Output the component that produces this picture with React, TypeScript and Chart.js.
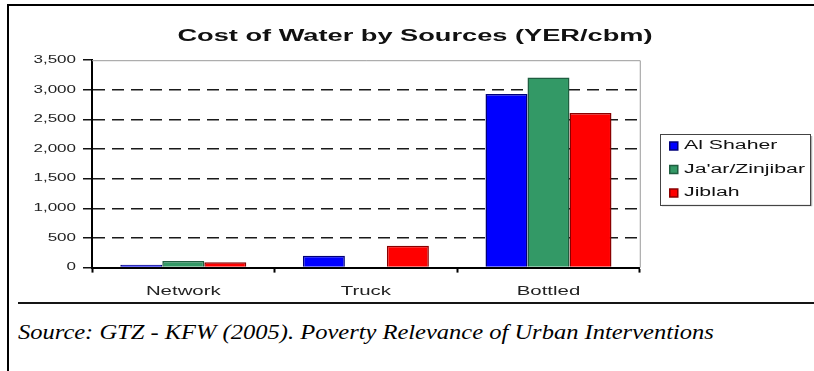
import React, { useEffect, useRef } from "react";
import { Chart, registerables } from "chart.js";

Chart.register(...registerables);

// ---- data ----
const categories = ["Network", "Truck", "Bottled"];
const seriesNames = ["Al Shaher", "Ja'ar/Zinjibar", "Jiblah"];
const alShaher = [50, 200, 2930];
const jaarZinjibar = [110, null, 3210];
const jiblah = [90, 370, 2610];
const yTickValues = [0, 500, 1000, 1500, 2000, 2500, 3000, 3500];

const titleText = "Cost of Water by Sources (YER/cbm)";
const sourceText = "Source: GTZ - KFW (2005). Poverty Relevance of Urban Interventions";

// ---- styling ----
const FONT = "'Liberation Sans', Arial, sans-serif";
const TEXT_STRETCH = 1.7; // glyphs are drawn horizontally widened
const fills = ["#0000FF", "#339966", "#FF0000"];
const edges = ["#00007A", "#1F5E40", "#8A0000"];

const formatThousands = (v: number) =>
  String(Math.round(v)).replace(/\B(?=(\d{3})+(?!\d))/g, ",");

// Widen every glyph drawn on this context, and report widened widths to the layout.
function widenText(ctx: CanvasRenderingContext2D, sx: number) {
  const fill = ctx.fillText.bind(ctx);
  const measure = ctx.measureText.bind(ctx);
  (ctx as any).fillText = (text: string, x: number, y: number, maxWidth?: number) => {
    ctx.save();
    ctx.translate(x, y);
    ctx.scale(sx, 1);
    if (maxWidth === undefined || maxWidth === null) fill(text, 0, 0);
    else fill(text, 0, 0, maxWidth / sx);
    ctx.restore();
  };
  (ctx as any).measureText = (text: string) => {
    const m = measure(text);
    return {
      width: m.width * sx,
      actualBoundingBoxLeft: m.actualBoundingBoxLeft * sx,
      actualBoundingBoxRight: m.actualBoundingBoxRight * sx,
      actualBoundingBoxAscent: m.actualBoundingBoxAscent,
      actualBoundingBoxDescent: m.actualBoundingBoxDescent,
      fontBoundingBoxAscent: m.fontBoundingBoxAscent,
      fontBoundingBoxDescent: m.fontBoundingBoxDescent,
    };
  };
}

// Moves the legend away from the plot and a little lower.
const legendNudge = {
  id: "legendNudge",
  afterLayout(chart: any) {
    const lg = chart.legend;
    if (!lg) return;
    const dx = 19;
    const dy = 5.5;
    lg.left += dx;
    lg.right += dx;
    lg.top += dy;
    lg.bottom += dy;
  },
};

// Thin grey frame on the top and right of the plot area.
const plotFrame = {
  id: "plotFrame",
  beforeDatasetsDraw(chart: any) {
    const { ctx, chartArea: a } = chart;
    ctx.save();
    ctx.strokeStyle = "#9a9a9a";
    ctx.lineWidth = 1;
    ctx.beginPath();
    ctx.moveTo(a.left, a.top + 0.5);
    ctx.lineTo(a.right + 0.5, a.top + 0.5);
    ctx.lineTo(a.right + 0.5, a.bottom);
    ctx.stroke();
    ctx.restore();
  },
};

// Box with a soft shadow around the legend entries.
const legendFrame = {
  id: "legendFrame",
  afterDraw(chart: any) {
    const boxes = chart.legend && chart.legend.legendHitBoxes;
    if (!boxes || !boxes.length) return;
    const left = Math.min(...boxes.map((b: any) => b.left)) - 10;
    const right = Math.max(...boxes.map((b: any) => b.left + b.width)) + 5;
    const top = Math.min(...boxes.map((b: any) => b.top)) - 6;
    const bottom = Math.max(...boxes.map((b: any) => b.top + b.height)) + 5;
    const ctx = chart.ctx;
    ctx.save();
    ctx.strokeStyle = "#b0b0b0";
    ctx.lineWidth = 1.5;
    ctx.beginPath();
    ctx.moveTo(Math.round(left) + 2, Math.round(bottom) + 1.5);
    ctx.lineTo(Math.round(right) + 1.5, Math.round(bottom) + 1.5);
    ctx.lineTo(Math.round(right) + 1.5, Math.round(top) + 2);
    ctx.stroke();
    ctx.strokeStyle = "#444";
    ctx.lineWidth = 1;
    ctx.strokeRect(Math.round(left) + 0.5, Math.round(top) + 0.5, Math.round(right - left), Math.round(bottom - top));
    ctx.restore();
  },
};

export default function App() {
  const canvasRef = useRef<HTMLCanvasElement | null>(null);

  useEffect(() => {
    const canvas = canvasRef.current;
    if (!canvas) return;
    const ctx = canvas.getContext("2d") as CanvasRenderingContext2D;
    widenText(ctx, TEXT_STRETCH);

    Chart.defaults.font.family = FONT;

    const seriesValues = [alShaher, jaarZinjibar, jiblah];

    const chart = new Chart(ctx, {
      type: "bar",
      data: {
        labels: categories,
        datasets: seriesNames.map((name, i) => ({
          label: name,
          data: seriesValues[i],
          backgroundColor: fills[i],
          borderColor: edges[i],
          borderWidth: 1.5,
          borderSkipped: "start",
          categoryPercentage: 0.69,
          barPercentage: 1,
        })),
      },
      options: {
        responsive: false,
        maintainAspectRatio: false,
        animation: false,
        devicePixelRatio: 1,
        layout: { padding: { left: 34, right: 18, top: 17, bottom: 5 } },
        plugins: {
          title: {
            display: true,
            text: titleText,
            color: "#111",
            font: { family: FONT, size: 16, weight: "bold" },
            padding: { top: 10, bottom: 14 },
          },
          legend: {
            display: true,
            position: "right",
            fullSize: false,
            align: "center",
            labels: {
              boxWidth: 8,
              boxHeight: 8,
              padding: 11,
              color: "#111",
              font: { family: FONT, size: 12.5 },
            },
          },
          tooltip: { enabled: false },
        },
        scales: {
          x: {
            grid: {
              display: true,
              offset: true,
              drawOnChartArea: false,
              drawTicks: true,
              tickLength: 5,
              tickColor: "#000",
              tickWidth: 2,
            },
            border: { display: true, color: "#000", width: 2 },
            ticks: {
              color: "#222",
              font: { family: FONT, size: 12 },
              padding: 12,
              maxRotation: 0,
            },
          },
          y: {
            min: 0,
            max: 3500,
            afterFit: (scale: any) => {
              scale.width = 58;
            },
            afterBuildTicks: (scale: any) => {
              scale.ticks = yTickValues.map((v) => ({ value: v }));
            },
            ticks: {
              color: "#222",
              font: { family: FONT, size: 10 },
              padding: 7,
              callback: (v: any) => formatThousands(Number(v)),
            },
            grid: {
              display: true,
              drawOnChartArea: true,
              drawTicks: true,
              tickLength: 9,
              tickColor: "#111",
              tickWidth: 1.5,
              lineWidth: 1.5,
              color: (c: any) =>
                c.tick && (c.tick.value === 0 || c.tick.value === 3500) ? "rgba(0,0,0,0)" : "#1a1a1a",
            },
            border: { display: true, color: "#000", width: 2, dash: [12, 7] },
          },
        },
      },
      plugins: [legendNudge, plotFrame, legendFrame],
    });

    return () => chart.destroy();
  }, []);

  return (
    <div
      style={{
        position: "absolute",
        left: 0,
        top: 0,
        width: 814,
        height: 371,
        overflow: "hidden",
        background: "#fff",
      }}
    >
      <div
        style={{
          position: "absolute",
          left: 7,
          top: 4,
          width: 900,
          height: 500,
          borderLeft: "2px solid #000",
          borderTop: "2px solid #000",
        }}
      />
      <canvas
        ref={canvasRef}
        width={814}
        height={316}
        style={{ position: "absolute", left: 0, top: 0, width: 814, height: 316 }}
      />
      <div
        style={{
          position: "absolute",
          left: 18,
          top: 302,
          width: 820,
          height: 2,
          background: "#151515",
        }}
      />
      <div
        style={{
          position: "absolute",
          left: 18,
          top: 321,
          font: "italic 20px 'Liberation Serif', 'Times New Roman', serif",
          color: "#000",
          whiteSpace: "nowrap",
          transform: "scaleX(1.225)",
          transformOrigin: "left top",
        }}
      >
        {sourceText}
      </div>
    </div>
  );
}
